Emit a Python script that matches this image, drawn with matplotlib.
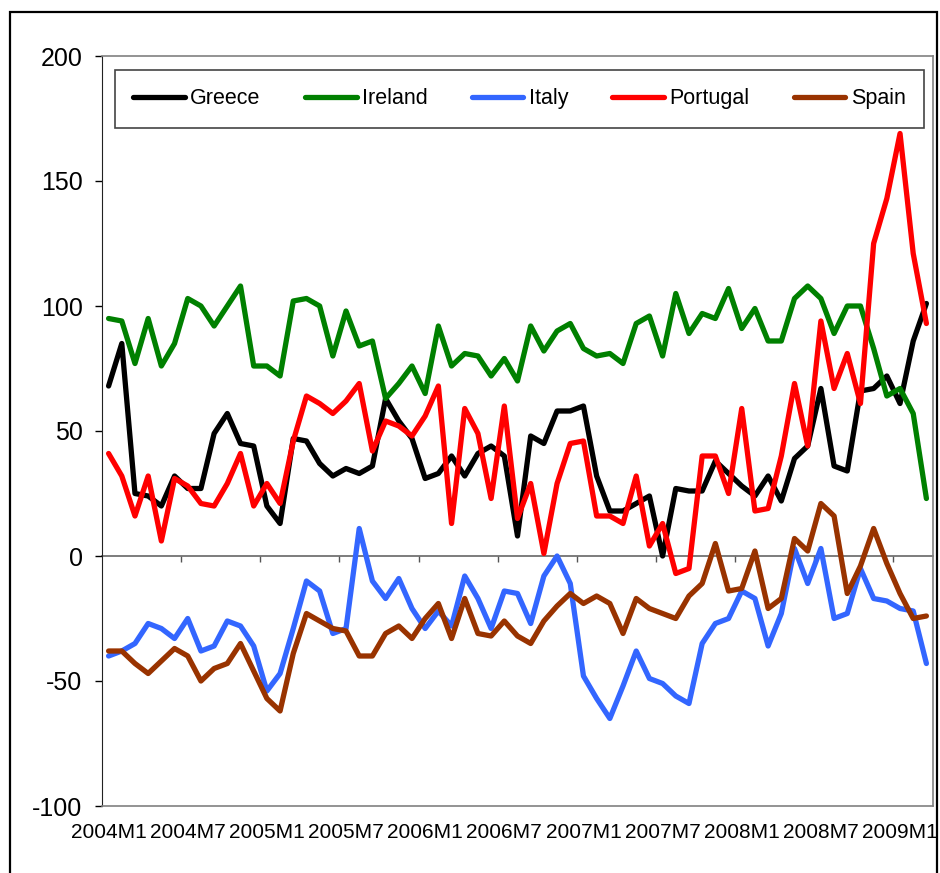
import matplotlib
matplotlib.use("Agg")
import matplotlib.pyplot as plt
from matplotlib.patches import Rectangle

plt.rcParams['font.family'] = ['Liberation Sans', 'DejaVu Sans']
plt.rcParams['axes.unicode_minus'] = False

# monthly data, 2004M1 .. 2009M3
tick_labels = ["2004M1", "2004M7", "2005M1", "2005M7", "2006M1", "2006M7",
               "2007M1", "2007M7", "2008M1", "2008M7", "2009M1"]

greece = [68, 85, 25, 24, 20, 32, 27, 27, 49, 57, 45, 44, 20, 13, 47, 46,
          37, 32, 35, 33, 36, 63, 54, 47, 31, 33, 40, 32, 41, 44, 40, 8,
          48, 45, 58, 58, 60, 32, 18, 18, 21, 24, 0, 27, 26, 26, 38, 33,
          28, 24, 32, 22, 39, 44, 67, 36, 34, 66, 67, 72, 61, 86, 101]
ireland = [95, 94, 77, 95, 76, 85, 103, 100, 92, 100, 108, 76, 76, 72, 102, 103,
           100, 80, 98, 84, 86, 63, 69, 76, 65, 92, 76, 81, 80, 72, 79, 70,
           92, 82, 90, 93, 83, 80, 81, 77, 93, 96, 80, 105, 89, 97, 95, 107,
           91, 99, 86, 86, 103, 108, 103, 89, 100, 100, 83, 64, 67, 57, 23]
italy = [-40, -38, -35, -27, -29, -33, -25, -38, -36, -26, -28, -36, -54, -47, -29, -10,
         -14, -31, -29, 11, -10, -17, -9, -21, -29, -22, -28, -8, -17, -29, -14, -15,
         -27, -8, 0, -11, -48, -57, -65, -52, -38, -49, -51, -56, -59, -35, -27, -25,
         -14, -17, -36, -23, 3, -11, 3, -25, -23, -5, -17, -18, -21, -22, -43]
portugal = [41, 32, 16, 32, 6, 31, 28, 21, 20, 29, 41, 20, 29, 21, 46, 64,
            61, 57, 62, 69, 42, 54, 52, 48, 56, 68, 13, 59, 49, 23, 60, 15,
            29, 1, 29, 45, 46, 16, 16, 13, 32, 4, 13, -7, -5, 40, 40, 25,
            59, 18, 19, 40, 69, 44, 94, 67, 81, 61, 125, 143, 169, 121, 93]
spain = [-38, -38, -43, -47, -42, -37, -40, -50, -45, -43, -35, -46, -57, -62, -39, -23,
         -26, -29, -30, -40, -40, -31, -28, -33, -25, -19, -33, -17, -31, -32, -26, -32,
         -35, -26, -20, -15, -19, -16, -19, -31, -17, -21, -23, -25, -16, -11, 5, -14,
         -13, 2, -21, -17, 7, 2, 21, 16, -15, -4, 11, -3, -15, -25, -24]

series = [("Greece", greece, "black"),
          ("Ireland", ireland, "#008000"),
          ("Italy", italy, "#3366FF"),
          ("Portugal", portugal, "#FF0000"),
          ("Spain", spain, "#993300")]

n = len(greece)
x = list(range(n))

fig = plt.figure(figsize=(9.4, 8.73), dpi=100)
ax = fig.add_axes([102 / 940, 67 / 873, 831 / 940, 750 / 873])

for name, vals, col in series:
    ax.plot(x, vals, color=col, lw=3.8, label=name,
            solid_joinstyle='round', solid_capstyle='round')

ax.set_xlim(-0.5, n - 0.5)
ax.set_ylim(-100, 200)
ax.set_yticks([-100, -50, 0, 50, 100, 150, 200])
ax.tick_params(axis='y', direction='out', length=5, width=1, pad=9,
               labelsize=18, colors='black')

# category labels under the plot, every 6 months
ax.set_xticks(range(0, n, 6), tick_labels)
ax.tick_params(axis='x', length=0, pad=12, labelsize=15)

for s in ['top', 'right', 'bottom']:
    ax.spines[s].set_color('#808080')
    ax.spines[s].set_linewidth(1.2)
ax.spines['left'].set_color('#222222')

# category axis crossing at zero, ticks between categories
sec = ax.secondary_xaxis(1 / 3)
sec.set_xticks([i - 0.5 for i in range(6, n, 6)], labels=[])
sec.tick_params(direction='out', length=4, width=1, color='#555555')
sec.spines['bottom'].set_color('#666666')
sec.spines['bottom'].set_linewidth(1.2)

leg = ax.legend(ncol=5, loc='upper left', mode='expand',
                bbox_to_anchor=(13 / 831, 0.9067, 809 / 831, 0.0747),
                borderaxespad=0, fontsize=15.5, handlelength=2.4,
                handletextpad=0.25, borderpad=0.85, fancybox=False,
                framealpha=1)
leg.get_frame().set_edgecolor('#444444')
leg.get_frame().set_linewidth(1.2)

# outer frame
fig.patches.append(Rectangle((10 / 940, -0.02), 927 / 940, (873 - 12) / 873 + 0.02,
                             transform=fig.transFigure, fill=False,
                             ec='black', lw=1.6))

fig.savefig("out.png", dpi=100)
